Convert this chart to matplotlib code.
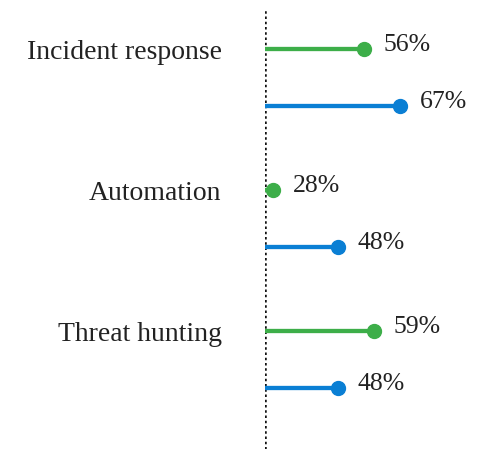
import matplotlib.pyplot as plt

# Datos
categorias = ['Incident response', 'Automation', 'Threat hunting']
serie_verde = [56, 28, 59]
serie_azul = [67, 48, 48]

color_verde = '#3dae49'
color_azul = '#0a7fd4'

plt.rcParams['font.family'] = ['Liberation Serif', 'DejaVu Serif']

fig = plt.figure(figsize=(4.87, 4.49), dpi=100)
ax = fig.add_axes([0.5435, 0.0, 0.4565, 0.978])

x_min = 25.4
x_max = 25.4 + (487 - 264.7) / 3.252
ax.set_xlim(x_min, x_max)
ax.set_ylim(2.835, -0.279)

separacion = 0.404
for i, cat in enumerate(categorias):
    for j, (valores, color) in enumerate([(serie_verde, color_verde), (serie_azul, color_azul)]):
        y = i + j * separacion
        v = valores[i]
        ax.hlines(y, x_min, v, color=color, lw=3.1, zorder=2)
        ax.plot(v, y, 'o', color=color, ms=10, zorder=3)
        ax.annotate(f'{v}%', (v, y), xytext=(14, -1), textcoords='offset points',
                    va='baseline', ha='left', fontsize=18.5, color='#222222')

# Linea punteada vertical
ax.axvline(x_min, color='#111111', lw=1.8, ls=(0, (1, 1.1)), zorder=1)

# Etiquetas de categoria
ax.set_yticks(range(len(categorias)))
ax.set_yticklabels(categorias, fontsize=20, color='#222222')
ax.tick_params(axis='y', length=0, pad=31)
ax.set_xticks([])

for s in ['top', 'right', 'bottom', 'left']:
    ax.spines[s].set_visible(False)

fig.savefig('out.png', dpi=100)
